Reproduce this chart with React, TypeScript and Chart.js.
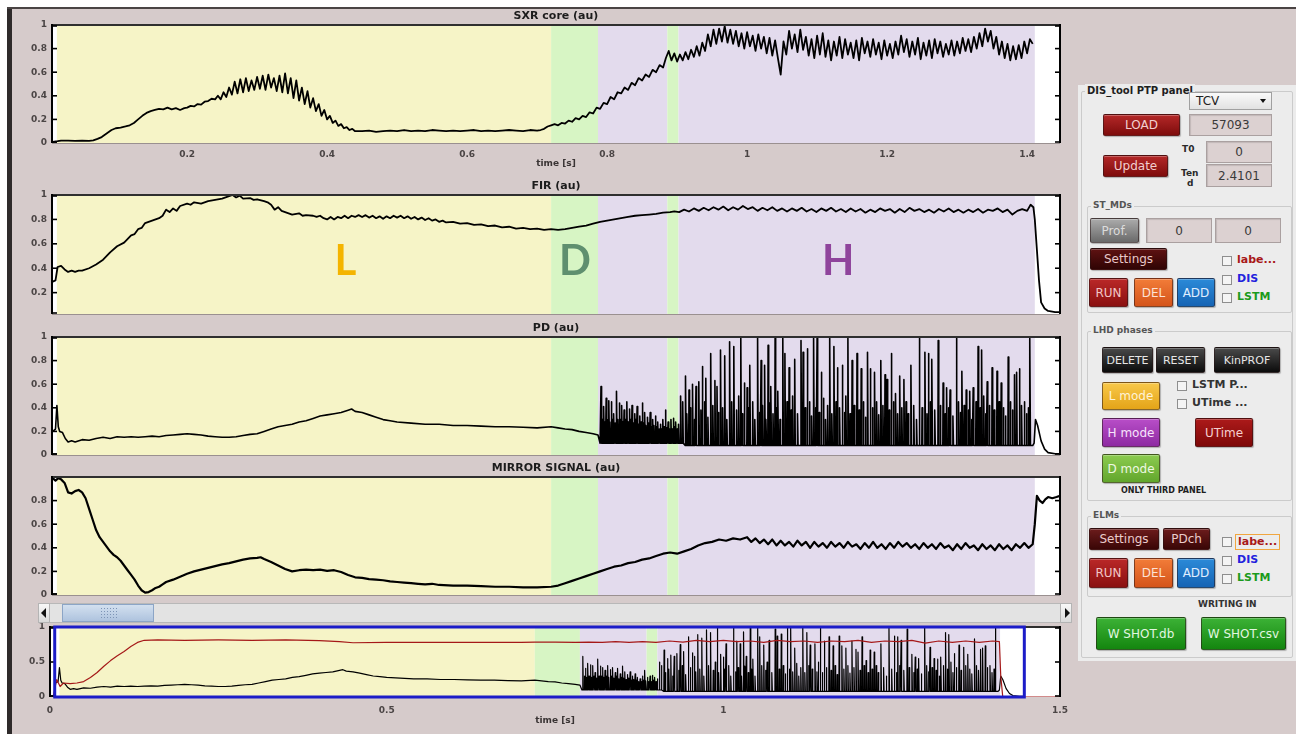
import React, { useEffect, useRef } from "react";
import { Chart, registerables } from "chart.js";

Chart.register(...registerables);

/* ================= DATA ================= */

// plasma phases (time in s)
const phaseStart = [0.014, 0.72, 0.787, 0.886, 0.902];
const phaseEnd = [0.72, 0.787, 0.886, 0.902, 1.411];
const phaseKind = ["L", "D", "H", "D", "H"];
const letterText = ["L", "D", "H"];
const letterTime = [0.426, 0.754, 1.13];
const letterLevel = 0.455;

// axes
const mainRange = [0.007, 1.447];
const ovRange = [0, 1.5];
const mainXTicks = [0.2, 0.4, 0.6, 0.8, 1, 1.2, 1.4];
const fullYTicks = [0, 0.2, 0.4, 0.6, 0.8, 1];
const firYTicks = [0.2, 0.4, 0.6, 0.8, 1];
const mirrorYTicks = [0, 0.2, 0.4, 0.6, 0.8];
const ovXTicks = [0, 0.5, 1, 1.5];
const ovYTicks = [0, 0.5, 1];

// SXR core (au)
const sxrCore = [
  [0.008, 0.01], [0.015, 0.015], [0.02, 0.02], [0.03, 0.02], [0.04, 0.018], [0.05, 0.02], [0.06, 0.018],
  [0.066, 0.022], [0.072, 0.035], [0.078, 0.05], [0.085, 0.08], [0.092, 0.11], [0.098, 0.125], [0.105, 0.13],
  [0.112, 0.14], [0.118, 0.15], [0.124, 0.17], [0.13, 0.2], [0.136, 0.23], [0.142, 0.255], [0.148, 0.27],
  [0.154, 0.28], [0.16, 0.29], [0.166, 0.285], [0.172, 0.3], [0.178, 0.285], [0.184, 0.295], [0.19, 0.28],
  [0.196, 0.295], [0.2, 0.3], [0.205, 0.315], [0.21, 0.31], [0.215, 0.33], [0.22, 0.325], [0.225, 0.35],
  [0.23, 0.355], [0.235, 0.375], [0.24, 0.37], [0.244, 0.4],
  [0.248, 0.37], [0.252, 0.43], [0.256, 0.39], [0.26, 0.47], [0.264, 0.41], [0.268, 0.52], [0.272, 0.42],
  [0.276, 0.54], [0.28, 0.43], [0.284, 0.55], [0.288, 0.44], [0.292, 0.53], [0.296, 0.45], [0.3, 0.56],
  [0.304, 0.46], [0.308, 0.57], [0.312, 0.45], [0.316, 0.58], [0.32, 0.47], [0.324, 0.55], [0.328, 0.44],
  [0.332, 0.57], [0.336, 0.43], [0.34, 0.59], [0.344, 0.42], [0.348, 0.55], [0.352, 0.38], [0.356, 0.53],
  [0.36, 0.36], [0.364, 0.47], [0.368, 0.33], [0.372, 0.44], [0.376, 0.3], [0.38, 0.38], [0.384, 0.27],
  [0.388, 0.33], [0.392, 0.23], [0.396, 0.28], [0.4, 0.2], [0.404, 0.23], [0.408, 0.17], [0.412, 0.19],
  [0.416, 0.145], [0.42, 0.16], [0.424, 0.125], [0.428, 0.135], [0.432, 0.11], [0.436, 0.12], [0.44, 0.1],
  [0.45, 0.1], [0.46, 0.105], [0.47, 0.095], [0.48, 0.1], [0.49, 0.105], [0.5, 0.1], [0.51, 0.11], [0.52, 0.1],
  [0.53, 0.105], [0.54, 0.1], [0.55, 0.11], [0.56, 0.105], [0.57, 0.1], [0.58, 0.105], [0.59, 0.1], [0.6, 0.105],
  [0.61, 0.11], [0.62, 0.1], [0.63, 0.105], [0.64, 0.1], [0.65, 0.105], [0.66, 0.11], [0.67, 0.105], [0.68, 0.1],
  [0.69, 0.11], [0.7, 0.105], [0.705, 0.11], [0.71, 0.12], [0.715, 0.14], [0.72, 0.15],
  [0.725, 0.16], [0.73, 0.15], [0.735, 0.17], [0.74, 0.165], [0.745, 0.19], [0.75, 0.18], [0.755, 0.21],
  [0.76, 0.2], [0.765, 0.23], [0.77, 0.22], [0.775, 0.26], [0.78, 0.25], [0.785, 0.3], [0.79, 0.29],
  [0.795, 0.34], [0.8, 0.33], [0.805, 0.39], [0.81, 0.37], [0.815, 0.43], [0.82, 0.42], [0.825, 0.47],
  [0.83, 0.45], [0.835, 0.51], [0.84, 0.49], [0.845, 0.55], [0.85, 0.53], [0.855, 0.58], [0.86, 0.56],
  [0.865, 0.62], [0.87, 0.6], [0.875, 0.66], [0.88, 0.64], [0.884, 0.72],
  [0.888, 0.78], [0.892, 0.7], [0.896, 0.76], [0.9, 0.69], [0.904, 0.75], [0.908, 0.7], [0.912, 0.77],
  [0.916, 0.71], [0.92, 0.79], [0.924, 0.73], [0.928, 0.82], [0.932, 0.74], [0.936, 0.85], [0.94, 0.78],
  [0.944, 0.92], [0.948, 0.82], [0.952, 0.96], [0.956, 0.84], [0.96, 0.97], [0.964, 0.86], [0.968, 0.99],
  [0.972, 0.85], [0.976, 0.96], [0.98, 0.84], [0.984, 0.95], [0.988, 0.82], [0.992, 0.93], [0.996, 0.8],
  [1.0, 0.94], [1.004, 0.82], [1.008, 0.91], [1.012, 0.78], [1.016, 0.92], [1.02, 0.8], [1.024, 0.9],
  [1.028, 0.76], [1.032, 0.89], [1.036, 0.74], [1.04, 0.87], [1.044, 0.72], [1.048, 0.58], [1.052, 0.86],
  [1.056, 0.75], [1.06, 0.95], [1.064, 0.8], [1.068, 0.92], [1.072, 0.77], [1.076, 0.96], [1.08, 0.79],
  [1.084, 0.9], [1.088, 0.74], [1.092, 0.88], [1.096, 0.72], [1.1, 0.91], [1.104, 0.75], [1.108, 0.93],
  [1.112, 0.73], [1.116, 0.87], [1.12, 0.7], [1.124, 0.86], [1.128, 0.74], [1.132, 0.9], [1.136, 0.72],
  [1.14, 0.88], [1.144, 0.75], [1.148, 0.85], [1.152, 0.72], [1.156, 0.87], [1.16, 0.7], [1.164, 0.89],
  [1.168, 0.76], [1.172, 0.86], [1.176, 0.73], [1.18, 0.88], [1.184, 0.75], [1.188, 0.85], [1.192, 0.71],
  [1.196, 0.87], [1.2, 0.74], [1.204, 0.84], [1.208, 0.72], [1.212, 0.86], [1.216, 0.75], [1.22, 0.91],
  [1.224, 0.77], [1.228, 0.88], [1.232, 0.73], [1.236, 0.86], [1.24, 0.75], [1.244, 0.89], [1.248, 0.71],
  [1.252, 0.85], [1.256, 0.74], [1.26, 0.87], [1.264, 0.72], [1.268, 0.88], [1.272, 0.76], [1.276, 0.86],
  [1.28, 0.73], [1.284, 0.84], [1.288, 0.75], [1.292, 0.87], [1.296, 0.74], [1.3, 0.86], [1.304, 0.76],
  [1.308, 0.89], [1.312, 0.78], [1.316, 0.88], [1.32, 0.77], [1.324, 0.9], [1.328, 0.8], [1.332, 0.93],
  [1.336, 0.82], [1.34, 0.97], [1.344, 0.86], [1.348, 0.95], [1.352, 0.8], [1.356, 0.9], [1.36, 0.75],
  [1.364, 0.86], [1.368, 0.72], [1.372, 0.84], [1.376, 0.7], [1.38, 0.82], [1.384, 0.71], [1.388, 0.83],
  [1.392, 0.72], [1.396, 0.86], [1.4, 0.76], [1.404, 0.88], [1.408, 0.84],
];

// FIR (au)
const fir = [
  [0.008, 0.29], [0.012, 0.3], [0.015, 0.41], [0.02, 0.42], [0.025, 0.39], [0.03, 0.37], [0.035, 0.38],
  [0.04, 0.37], [0.045, 0.38], [0.05, 0.38], [0.06, 0.4], [0.07, 0.43], [0.08, 0.47], [0.09, 0.53],
  [0.1, 0.58], [0.11, 0.61], [0.12, 0.67], [0.125, 0.68], [0.13, 0.72], [0.135, 0.73], [0.14, 0.77],
  [0.15, 0.79], [0.16, 0.81], [0.165, 0.83], [0.17, 0.88], [0.175, 0.86], [0.18, 0.89], [0.185, 0.87],
  [0.19, 0.91], [0.2, 0.93], [0.205, 0.92], [0.21, 0.94], [0.22, 0.93], [0.23, 0.95], [0.24, 0.96],
  [0.25, 0.97], [0.26, 0.99], [0.265, 1.0], [0.27, 0.98], [0.275, 0.995], [0.28, 0.97], [0.29, 0.975],
  [0.295, 0.96], [0.3, 0.965], [0.31, 0.95], [0.315, 0.94], [0.32, 0.92], [0.325, 0.88], [0.33, 0.9],
  [0.335, 0.87], [0.34, 0.86], [0.35, 0.84], [0.36, 0.85], [0.365, 0.83], [0.37, 0.835], [0.38, 0.83],
  [0.385, 0.82], [0.39, 0.83], [0.395, 0.81], [0.4, 0.8], [0.405, 0.82], [0.41, 0.8], [0.415, 0.82],
  [0.42, 0.81], [0.425, 0.83], [0.43, 0.81], [0.435, 0.83], [0.44, 0.82], [0.445, 0.835], [0.45, 0.82],
  [0.455, 0.835], [0.46, 0.815], [0.465, 0.83], [0.47, 0.81], [0.475, 0.825], [0.48, 0.805], [0.485, 0.825],
  [0.49, 0.81], [0.495, 0.83], [0.5, 0.815], [0.505, 0.83], [0.51, 0.81], [0.515, 0.825], [0.52, 0.805],
  [0.525, 0.82], [0.53, 0.8], [0.535, 0.815], [0.54, 0.795], [0.545, 0.81], [0.55, 0.79], [0.555, 0.8],
  [0.56, 0.78], [0.565, 0.79], [0.57, 0.775], [0.58, 0.78], [0.59, 0.765], [0.6, 0.77], [0.61, 0.755],
  [0.62, 0.76], [0.63, 0.745], [0.64, 0.75], [0.65, 0.735], [0.66, 0.74], [0.67, 0.725], [0.68, 0.73],
  [0.69, 0.72], [0.7, 0.725], [0.71, 0.715], [0.72, 0.72], [0.73, 0.715], [0.74, 0.72], [0.75, 0.73],
  [0.76, 0.74], [0.77, 0.75], [0.78, 0.765], [0.79, 0.78], [0.8, 0.79], [0.81, 0.8], [0.82, 0.81],
  [0.83, 0.82], [0.84, 0.83], [0.85, 0.835], [0.86, 0.84], [0.87, 0.845], [0.88, 0.855], [0.89, 0.86],
  [0.896, 0.865], [0.903, 0.86], [0.91, 0.88], [0.917, 0.865], [0.924, 0.89], [0.931, 0.87], [0.938, 0.895],
  [0.945, 0.875], [0.952, 0.9], [0.959, 0.88], [0.966, 0.905], [0.973, 0.875], [0.98, 0.9], [0.987, 0.88],
  [0.994, 0.91], [1.001, 0.885], [1.008, 0.9], [1.015, 0.87], [1.022, 0.895], [1.029, 0.875], [1.036, 0.9],
  [1.043, 0.87], [1.05, 0.89], [1.057, 0.865], [1.064, 0.89], [1.071, 0.87], [1.078, 0.895], [1.085, 0.865],
  [1.092, 0.885], [1.099, 0.86], [1.106, 0.89], [1.113, 0.87], [1.12, 0.895], [1.127, 0.865], [1.134, 0.885],
  [1.141, 0.86], [1.148, 0.89], [1.155, 0.865], [1.162, 0.885], [1.169, 0.855], [1.176, 0.88], [1.183, 0.86],
  [1.19, 0.89], [1.197, 0.87], [1.204, 0.885], [1.211, 0.855], [1.218, 0.885], [1.225, 0.86], [1.232, 0.895],
  [1.239, 0.87], [1.246, 0.885], [1.253, 0.86], [1.26, 0.88], [1.267, 0.855], [1.274, 0.885], [1.281, 0.865],
  [1.288, 0.89], [1.295, 0.86], [1.302, 0.88], [1.309, 0.855], [1.316, 0.88], [1.323, 0.86], [1.33, 0.885],
  [1.337, 0.855], [1.344, 0.88], [1.351, 0.87], [1.358, 0.89], [1.365, 0.86], [1.372, 0.88], [1.379, 0.84],
  [1.386, 0.87], [1.393, 0.885], [1.4, 0.87], [1.405, 0.92], [1.409, 0.9], [1.411, 0.8], [1.414, 0.55],
  [1.417, 0.3], [1.42, 0.12], [1.425, 0.07], [1.43, 0.05], [1.44, 0.04], [1.447, 0.04],
];

// PD (au): slow part
const pdSmooth = [
  [0.008, 0.2], [0.012, 0.22], [0.014, 0.42], [0.016, 0.24], [0.018, 0.2], [0.022, 0.19], [0.026, 0.14],
  [0.03, 0.11], [0.035, 0.12], [0.04, 0.11], [0.05, 0.13], [0.06, 0.125], [0.07, 0.14], [0.08, 0.15],
  [0.09, 0.14], [0.1, 0.155], [0.11, 0.15], [0.12, 0.155], [0.13, 0.15], [0.14, 0.155], [0.15, 0.16],
  [0.16, 0.155], [0.17, 0.165], [0.18, 0.17], [0.19, 0.175], [0.2, 0.18], [0.21, 0.175], [0.22, 0.17],
  [0.23, 0.16], [0.24, 0.155], [0.25, 0.15], [0.26, 0.15], [0.27, 0.155], [0.28, 0.165], [0.29, 0.175],
  [0.3, 0.18], [0.31, 0.2], [0.32, 0.22], [0.33, 0.24], [0.34, 0.25], [0.35, 0.26], [0.36, 0.28],
  [0.37, 0.29], [0.38, 0.31], [0.39, 0.33], [0.4, 0.34], [0.41, 0.35], [0.42, 0.36], [0.43, 0.38],
  [0.435, 0.39], [0.44, 0.37], [0.45, 0.36], [0.46, 0.34], [0.47, 0.32], [0.48, 0.3], [0.49, 0.29],
  [0.5, 0.28], [0.52, 0.27], [0.54, 0.26], [0.56, 0.26], [0.58, 0.25], [0.6, 0.25], [0.62, 0.245],
  [0.64, 0.24], [0.66, 0.24], [0.68, 0.235], [0.7, 0.23], [0.72, 0.24], [0.73, 0.23], [0.74, 0.22],
  [0.75, 0.215], [0.76, 0.2], [0.77, 0.19], [0.78, 0.18], [0.787, 0.17], [0.79, 0.1],
  [1.408, 0.08], [1.41, 0.1], [1.412, 0.3], [1.415, 0.25], [1.42, 0.12], [1.425, 0.05], [1.43, 0.02],
  [1.44, 0.01], [1.447, 0.01],
];
// PD: dithering bursts before the ELMy H-mode [t, peak]
const pdDither = [
  [0.7913, 0.58], [0.7935, 0.3], [0.7952, 0.41], [0.797, 0.28], [0.7987, 0.48], [0.8005, 0.3], [0.8026, 0.46],
  [0.804, 0.28], [0.806, 0.45], [0.808, 0.3], [0.8095, 0.35], [0.8115, 0.27], [0.8134, 0.54], [0.8155, 0.3],
  [0.8174, 0.44], [0.819, 0.3], [0.8208, 0.42], [0.8225, 0.28], [0.8243, 0.38], [0.826, 0.3], [0.8282, 0.45],
  [0.83, 0.28], [0.8321, 0.39], [0.834, 0.3], [0.8356, 0.42], [0.8375, 0.27], [0.8395, 0.35], [0.841, 0.3],
  [0.8429, 0.41], [0.845, 0.26], [0.8469, 0.33], [0.8485, 0.28], [0.8503, 0.44], [0.852, 0.27], [0.8538, 0.36],
  [0.8555, 0.25], [0.8577, 0.32], [0.8595, 0.27], [0.8616, 0.36], [0.863, 0.24], [0.8651, 0.3], [0.867, 0.25],
  [0.869, 0.33], [0.871, 0.24], [0.8725, 0.28], [0.8745, 0.22], [0.8764, 0.26], [0.878, 0.22], [0.8798, 0.3],
  [0.8815, 0.24], [0.8833, 0.38], [0.885, 0.23], [0.8872, 0.28], [0.889, 0.22], [0.8912, 0.3], [0.893, 0.22],
  [0.8946, 0.31], [0.8965, 0.24], [0.8981, 0.28], [0.9, 0.22], [0.902, 0.26], [0.905, 0.5], [0.908, 0.45],
];
// PD: large ELM spikes [t, peak]
const pdElmLarge = [
  [0.912, 0.67], [0.917, 0.55], [0.922, 0.6], [0.927, 0.58], [0.931, 0.62], [0.936, 0.75], [0.941, 0.65],
  [0.948, 0.86], [0.954, 0.63], [0.957, 0.58], [0.962, 0.89], [0.968, 0.84], [0.975, 0.96], [0.981, 0.92],
  [0.991, 0.99], [0.996, 0.61], [1.0, 0.57], [1.004, 0.76], [1.015, 0.99], [1.02, 0.8], [1.025, 0.76],
  [1.03, 0.93], [1.034, 0.58], [1.04, 0.99], [1.044, 0.54], [1.051, 0.99], [1.054, 0.86], [1.06, 0.74],
  [1.068, 0.81], [1.077, 0.97], [1.08, 0.87], [1.086, 0.9], [1.095, 0.99], [1.1, 0.99], [1.106, 0.7],
  [1.118, 0.99], [1.124, 0.92], [1.129, 0.74], [1.136, 0.76], [1.144, 0.99], [1.15, 0.8], [1.157, 0.86],
  [1.163, 0.73], [1.172, 0.87], [1.176, 0.73], [1.182, 0.7], [1.191, 0.8], [1.197, 0.68], [1.2, 0.64],
  [1.206, 0.86], [1.212, 0.52], [1.218, 0.67], [1.224, 0.64], [1.234, 0.76], [1.246, 0.99], [1.254, 0.87],
  [1.259, 0.86], [1.264, 0.81], [1.273, 0.97], [1.28, 0.61], [1.285, 0.57], [1.29, 0.55], [1.299, 0.99],
  [1.307, 0.71], [1.313, 0.55], [1.318, 0.54], [1.323, 0.57], [1.33, 0.92], [1.335, 0.89], [1.343, 0.62],
  [1.35, 0.74], [1.357, 0.71], [1.363, 0.61], [1.373, 0.83], [1.382, 0.68], [1.385, 0.7], [1.389, 0.73],
  [1.404, 0.99],
];
// PD: smaller ELM spikes between the large ones [t, peak]
const pdElmSmall = [
  [0.914, 0.35], [0.919, 0.4], [0.925, 0.3], [0.934, 0.38], [0.939, 0.45], [0.944, 0.32], [0.951, 0.42],
  [0.959, 0.36], [0.965, 0.4], [0.971, 0.3], [0.978, 0.45], [0.985, 0.38], [0.988, 0.5], [0.993, 0.35],
  [1.002, 0.4], [1.008, 0.45], [1.011, 0.3], [1.018, 0.36], [1.022, 0.42], [1.027, 0.3], [1.032, 0.44],
  [1.037, 0.35], [1.042, 0.4], [1.047, 0.3], [1.057, 0.45], [1.063, 0.38], [1.065, 0.5], [1.072, 0.35],
  [1.083, 0.4], [1.089, 0.45], [1.092, 0.33], [1.098, 0.4], [1.103, 0.36], [1.109, 0.48], [1.112, 0.3],
  [1.115, 0.42], [1.121, 0.35], [1.127, 0.45], [1.132, 0.4], [1.139, 0.36], [1.141, 0.5], [1.147, 0.35],
  [1.153, 0.42], [1.16, 0.38], [1.166, 0.45], [1.169, 0.32], [1.179, 0.4], [1.185, 0.45], [1.188, 0.34],
  [1.194, 0.42], [1.203, 0.38], [1.209, 0.45], [1.215, 0.35], [1.221, 0.4], [1.227, 0.45], [1.23, 0.35],
  [1.238, 0.42], [1.242, 0.3], [1.25, 0.4], [1.257, 0.35], [1.262, 0.45], [1.268, 0.38], [1.276, 0.42],
  [1.283, 0.35], [1.288, 0.4], [1.294, 0.33], [1.302, 0.45], [1.305, 0.36], [1.31, 0.42], [1.316, 0.38],
  [1.321, 0.3], [1.327, 0.45], [1.333, 0.4], [1.338, 0.5], [1.341, 0.35], [1.346, 0.42], [1.353, 0.38],
  [1.36, 0.45], [1.366, 0.4], [1.369, 0.33], [1.376, 0.45], [1.379, 0.38], [1.392, 0.42], [1.396, 0.45],
  [1.399, 0.35], [1.402, 0.4],
];
const pdDitherBase = 0.1;
const pdElmBase = 0.08;

// MIRROR SIGNAL (au)
const mirror = [
  [0.008, 0.99], [0.012, 0.97], [0.016, 0.99], [0.02, 0.98], [0.025, 0.95], [0.03, 0.87], [0.035, 0.86],
  [0.04, 0.88], [0.045, 0.89], [0.05, 0.87], [0.055, 0.82], [0.06, 0.73], [0.065, 0.64], [0.07, 0.55],
  [0.075, 0.49], [0.08, 0.45], [0.085, 0.41], [0.09, 0.37], [0.095, 0.34], [0.1, 0.32], [0.105, 0.29],
  [0.11, 0.25], [0.115, 0.21], [0.12, 0.17], [0.125, 0.13], [0.13, 0.08], [0.135, 0.04], [0.14, 0.02],
  [0.145, 0.025], [0.15, 0.04], [0.155, 0.06], [0.16, 0.07], [0.165, 0.09], [0.17, 0.11], [0.18, 0.13],
  [0.19, 0.155], [0.2, 0.18], [0.21, 0.2], [0.22, 0.215], [0.23, 0.23], [0.24, 0.245], [0.25, 0.26],
  [0.26, 0.27], [0.27, 0.285], [0.28, 0.3], [0.29, 0.31], [0.3, 0.315], [0.305, 0.32], [0.31, 0.305],
  [0.32, 0.28], [0.33, 0.25], [0.34, 0.22], [0.35, 0.2], [0.36, 0.21], [0.37, 0.215], [0.38, 0.21],
  [0.39, 0.215], [0.4, 0.205], [0.41, 0.21], [0.42, 0.195], [0.43, 0.17], [0.44, 0.15], [0.45, 0.145],
  [0.46, 0.135], [0.47, 0.13], [0.48, 0.125], [0.49, 0.115], [0.5, 0.11], [0.51, 0.105], [0.52, 0.1],
  [0.53, 0.095], [0.54, 0.09], [0.55, 0.095], [0.56, 0.085], [0.58, 0.08], [0.6, 0.08], [0.62, 0.075],
  [0.64, 0.07], [0.66, 0.07], [0.68, 0.065], [0.7, 0.065], [0.72, 0.07], [0.73, 0.08], [0.74, 0.1],
  [0.75, 0.12], [0.76, 0.14], [0.77, 0.16], [0.78, 0.18], [0.79, 0.2], [0.8, 0.22], [0.81, 0.24],
  [0.82, 0.25], [0.83, 0.27], [0.84, 0.28], [0.85, 0.3], [0.86, 0.31], [0.87, 0.33], [0.88, 0.35],
  [0.89, 0.36], [0.9, 0.35], [0.91, 0.37], [0.92, 0.39], [0.93, 0.42], [0.94, 0.44], [0.95, 0.45],
  [0.96, 0.47], [0.97, 0.46], [0.98, 0.48], [0.99, 0.47],
  [1.0, 0.49], [1.006, 0.45], [1.012, 0.48], [1.018, 0.44], [1.024, 0.47], [1.03, 0.43], [1.036, 0.47],
  [1.042, 0.42], [1.048, 0.46], [1.054, 0.42], [1.06, 0.45], [1.066, 0.41], [1.072, 0.46], [1.078, 0.42],
  [1.084, 0.45], [1.09, 0.4], [1.096, 0.45], [1.102, 0.41], [1.108, 0.44], [1.114, 0.4], [1.12, 0.45],
  [1.126, 0.41], [1.132, 0.44], [1.138, 0.4], [1.144, 0.45], [1.15, 0.41], [1.156, 0.43], [1.162, 0.39],
  [1.168, 0.44], [1.174, 0.4], [1.18, 0.45], [1.186, 0.4], [1.192, 0.43], [1.198, 0.39], [1.204, 0.44],
  [1.21, 0.4], [1.216, 0.45], [1.222, 0.41], [1.228, 0.44], [1.234, 0.4], [1.24, 0.43], [1.246, 0.39],
  [1.252, 0.44], [1.258, 0.4], [1.264, 0.43], [1.27, 0.39], [1.276, 0.44], [1.282, 0.4], [1.288, 0.42],
  [1.294, 0.38], [1.3, 0.43], [1.306, 0.39], [1.312, 0.44], [1.318, 0.4], [1.324, 0.42], [1.33, 0.38],
  [1.336, 0.43], [1.342, 0.39], [1.348, 0.42], [1.354, 0.38], [1.36, 0.43], [1.366, 0.39], [1.372, 0.42],
  [1.378, 0.38], [1.384, 0.43], [1.39, 0.4], [1.396, 0.44], [1.402, 0.4], [1.408, 0.43], [1.411, 0.6],
  [1.414, 0.84], [1.418, 0.8], [1.422, 0.78], [1.426, 0.81], [1.43, 0.83], [1.436, 0.82], [1.442, 0.83],
  [1.447, 0.84],
];

// overview: red reference trace
const ovRed = [
  [0.005, 0.02], [0.01, 0.25], [0.015, 0.15], [0.02, 0.2], [0.03, 0.19], [0.04, 0.2], [0.05, 0.22],
  [0.06, 0.28], [0.07, 0.35], [0.08, 0.44], [0.09, 0.52], [0.1, 0.59], [0.11, 0.65], [0.12, 0.72],
  [0.13, 0.78], [0.14, 0.81], [0.16, 0.815], [0.2, 0.81], [0.25, 0.815], [0.3, 0.81], [0.35, 0.815],
  [0.4, 0.805], [0.43, 0.79], [0.45, 0.775], [0.5, 0.78], [0.55, 0.78], [0.6, 0.78], [0.65, 0.78],
  [0.7, 0.78], [0.72, 0.785], [0.75, 0.785], [0.78, 0.78], [0.8, 0.785], [0.82, 0.78], [0.84, 0.79],
  [0.86, 0.78], [0.88, 0.79], [0.9, 0.78], [0.92, 0.8], [0.94, 0.785], [0.96, 0.81], [0.98, 0.79],
  [1.0, 0.81], [1.02, 0.79], [1.04, 0.8], [1.06, 0.78], [1.08, 0.81], [1.1, 0.79], [1.12, 0.8],
  [1.14, 0.78], [1.16, 0.8], [1.18, 0.79], [1.2, 0.81], [1.22, 0.78], [1.24, 0.8], [1.26, 0.79],
  [1.28, 0.81], [1.3, 0.77], [1.32, 0.8], [1.34, 0.78], [1.36, 0.8], [1.38, 0.78], [1.4, 0.8],
  [1.41, 0.79], [1.412, 0.3], [1.415, 0.0], [1.5, 0.0],
];

/* ================= HELPERS ================= */

const PHASE_FILL: Record<string, string> = { L: "#f6f4c7", D: "#d7f5c4", H: "#e3dbed" };
const LETTER_COLOR: Record<string, string> = { L: "#f4b400", D: "#5f8f6f", H: "#8f449c" };
const FIG_BG = "#d6cbcb";
const FONT = '"DejaVu Sans", "Liberation Sans", sans-serif';

const xy = (pairs: number[][]) => pairs.map(([x, y]) => ({ x, y }));

function spikes(list: number[][], base: number) {
  const out: number[][] = [];
  list.forEach(([t, h]) => {
    out.push([t - 0.0004, base], [t, h], [t + 0.0008, base]);
  });
  return out;
}

const pdAll = [
  ...pdSmooth,
  ...spikes(pdDither, pdDitherBase),
  ...spikes(pdElmLarge, pdElmBase),
  ...spikes(pdElmSmall, pdElmBase),
].sort((a, b) => a[0] - b[0]);

const fmt = (v: any) => String(Math.round(Number(v) * 100) / 100);

const decorPlugin = {
  id: "decor",
  beforeDatasetsDraw(chart: any, _a: any, o: any) {
    const { ctx, chartArea: a } = chart;
    const xs = chart.scales.x;
    ctx.save();
    ctx.fillStyle = "#ffffff";
    ctx.fillRect(a.left, a.top, a.right - a.left, a.bottom - a.top);
    phaseStart.forEach((s, i) => {
      const x0 = Math.max(a.left, xs.getPixelForValue(s));
      const x1 = Math.min(a.right, xs.getPixelForValue(phaseEnd[i]));
      if (x1 > x0) {
        ctx.fillStyle = PHASE_FILL[phaseKind[i]];
        ctx.fillRect(x0, a.top, x1 - x0, a.bottom - a.top);
      }
    });
    ctx.restore();
  },
  afterDatasetsDraw(chart: any, _a: any, o: any) {
    const { ctx, chartArea: a } = chart;
    const xs = chart.scales.x;
    const ys = chart.scales.y;
    const seg = (x0: number, y0: number, x1: number, y1: number, c: string, w: number) => {
      ctx.strokeStyle = c;
      ctx.lineWidth = w;
      ctx.beginPath();
      ctx.moveTo(x0, y0);
      ctx.lineTo(x1, y1);
      ctx.stroke();
    };
    ctx.save();
    if (o.letters) {
      ctx.font = "bold 42px Lato, 'Open Sans', sans-serif";
      ctx.textAlign = "center";
      ctx.textBaseline = "middle";
      letterText.forEach((t, i) => {
        ctx.fillStyle = LETTER_COLOR[t];
        ctx.fillText(t, xs.getPixelForValue(letterTime[i]), ys.getPixelForValue(letterLevel));
      });
    }
    // frame
    seg(a.left, a.top, a.right, a.top, "#2f2f2f", 2);
    if (o.bottomLine) seg(a.left, a.bottom + 0.5, a.right, a.bottom + 0.5, "#9a9090", 1);
    seg(a.left, a.top - 1, a.left, a.bottom, "#000", 2);
    seg(a.right, a.top - 1, a.right, a.bottom, "#000", 2);
    ys.ticks.forEach((t: any) => {
      const py = Math.min(a.bottom - 1, Math.max(a.top + 1, ys.getPixelForValue(t.value)));
      seg(a.left, py, a.left + 5, py, "#000", 1.6);
      seg(a.right - 5, py, a.right, py, "#000", 1.6);
    });
    seg(a.left, a.bottom - 1, a.left + 5, a.bottom - 1, "#000", 1.6);
    if (o.windowBox) {
      const x0 = xs.getPixelForValue(mainRange[0]);
      const x1 = xs.getPixelForValue(mainRange[1]);
      ctx.strokeStyle = "#1c1cc8";
      ctx.lineWidth = 3;
      ctx.strokeRect(x0, a.top, x1 - x0, a.bottom - a.top);
    }
    if (o.title) {
      ctx.font = `bold 11px ${FONT}`;
      ctx.fillStyle = "#1c1c1c";
      ctx.textAlign = "center";
      ctx.textBaseline = "middle";
      ctx.fillText(o.title, (a.left + a.right) / 2, a.top - 9);
    }
    ctx.restore();
  },
};

type Cfg = {
  id: string;
  left: number;
  top: number;
  width: number;
  height: number;
  padTop: number;
  padBottom: number;
  padRight: number;
  yWidth: number;
  xHeight: number;
  xMin: number;
  xMax: number;
  yMin: number;
  yMax: number;
  yTicks: number[];
  xTicks: number[] | null;
  xPad: number;
  xTitle: string | null;
  title: string | null;
  letters: boolean;
  windowBox: boolean;
  datasets: any[];
};

const tickFont = { family: FONT, size: 9, weight: "bold" as const };

const line = (pairs: number[][], color: string, width: number) => ({
  data: xy(pairs),
  borderColor: color,
  borderWidth: width,
  pointRadius: 0,
  fill: false,
  tension: 0,
  borderJoinStyle: "round",
  spanGaps: true,
});

function ChartPanel({ cfg }: { cfg: Cfg }) {
  const ref = useRef<HTMLCanvasElement | null>(null);
  useEffect(() => {
    if (!ref.current) return;
    const zeroPad = (s: any) => {
      s.paddingLeft = 0;
      s.paddingRight = 0;
      s.paddingTop = 0;
      s.paddingBottom = 0;
    };
    const chart = new Chart(ref.current, {
      type: "line",
      data: { datasets: cfg.datasets },
      options: {
        animation: false,
        responsive: false,
        devicePixelRatio: 1,
        events: [],
        layout: { padding: { left: 0, top: cfg.padTop, right: cfg.padRight, bottom: cfg.padBottom } },
        plugins: {
          legend: { display: false },
          tooltip: { enabled: false },
          decor: {
            title: cfg.title,
            letters: cfg.letters,
            windowBox: cfg.windowBox,
            bottomLine: !cfg.windowBox,
          },
        } as any,
        scales: {
          x: {
            type: "linear",
            min: cfg.xMin,
            max: cfg.xMax,
            grid: { display: false, drawTicks: false },
            border: { display: false },
            afterBuildTicks: (s: any) => {
              s.ticks = (cfg.xTicks || []).map((v) => ({ value: v }));
            },
            afterFit: (s: any) => {
              s.height = cfg.xHeight;
              zeroPad(s);
            },
            ticks: {
              display: !!cfg.xTicks,
              padding: cfg.xPad,
              font: tickFont,
              color: "#4b4545",
              maxRotation: 0,
              autoSkip: false,
              callback: fmt,
            },
            title: {
              display: !!cfg.xTitle,
              text: cfg.xTitle || "",
              font: { family: FONT, size: 9, weight: "bold" },
              color: "#3a3434",
              padding: { top: 0, bottom: 1 },
            },
          },
          y: {
            type: "linear",
            min: cfg.yMin,
            max: cfg.yMax,
            grid: { display: false, drawTicks: false },
            border: { display: false },
            afterBuildTicks: (s: any) => {
              s.ticks = cfg.yTicks.map((v) => ({ value: v }));
            },
            afterFit: (s: any) => {
              s.width = cfg.yWidth;
              zeroPad(s);
            },
            ticks: { padding: 5, font: tickFont, color: "#4b4545", autoSkip: false, callback: fmt },
          },
        },
      } as any,
      plugins: [decorPlugin as any],
    });
    return () => chart.destroy();
  }, []);
  return (
    <canvas
      ref={ref}
      width={cfg.width}
      height={cfg.height}
      style={{ position: "absolute", left: cfg.left, top: cfg.top, width: cfg.width, height: cfg.height }}
    />
  );
}

const mainBase = {
  left: 8,
  width: 1064,
  padTop: 17,
  padRight: 12,
  yWidth: 44,
  xMin: mainRange[0],
  xMax: mainRange[1],
  xPad: 6,
  windowBox: false,
};

const panels: Cfg[] = [
  {
    ...mainBase, id: "sxr", top: 8, height: 162, padBottom: 0, xHeight: 27, yMin: 0, yMax: 1,
    yTicks: fullYTicks, xTicks: mainXTicks, xTitle: "time [s]", title: "SXR core (au)", letters: false,
    datasets: [line(sxrCore, "#000", 1.8)],
  },
  {
    ...mainBase, id: "fir", top: 178, height: 140, padBottom: 4, xHeight: 0, yMin: 0.025, yMax: 1,
    yTicks: firYTicks, xTicks: null, xTitle: null, title: "FIR (au)", letters: true,
    datasets: [line(fir, "#000", 1.8)],
  },
  {
    ...mainBase, id: "pd", top: 320, height: 139, padBottom: 4, xHeight: 0, yMin: 0, yMax: 1,
    yTicks: fullYTicks, xTicks: null, xTitle: null, title: "PD (au)", letters: false,
    datasets: [line(pdAll, "#000", 1.6)],
  },
  {
    ...mainBase, id: "mirror", top: 460, height: 139, padBottom: 4, xHeight: 0, yMin: 0, yMax: 1,
    yTicks: mirrorYTicks, xTicks: null, xTitle: null, title: "MIRROR SIGNAL (au)", letters: false,
    datasets: [line(mirror, "#000", 2.2)],
  },
  {
    id: "overview", left: 8, top: 621, width: 1064, height: 106, padTop: 6, padBottom: 0, padRight: 12,
    yWidth: 42, xHeight: 30, xMin: ovRange[0], xMax: ovRange[1], yMin: 0, yMax: 1, yTicks: ovYTicks,
    xTicks: ovXTicks, xPad: 8, xTitle: "time [s]", title: null, letters: false, windowBox: true,
    datasets: [line(ovRed, "#a51818", 1.2), line(pdAll, "#000", 1.2)],
  },
];

/* ================= GUI PIECES ================= */

const grad = (a: string, b: string) => `linear-gradient(to bottom, ${a}, ${b})`;

function Btn(p: { x: number; y: number; w: number; h: number; bg: string; fg: string; label: string; fs?: number }) {
  return (
    <div
      style={{
        position: "absolute", left: p.x, top: p.y, width: p.w, height: p.h, background: p.bg, color: p.fg,
        font: `${p.fs || 12}px ${FONT}`, display: "flex", alignItems: "center", justifyContent: "center",
        boxSizing: "border-box", border: "1px solid rgba(40,20,20,0.55)", borderRadius: 2,
        boxShadow: "inset 0 1px 0 rgba(255,255,255,0.28), 1px 1px 1px rgba(0,0,0,0.25)",
        overflow: "hidden", whiteSpace: "nowrap",
      }}
    >
      {p.label}
    </div>
  );
}

function Field(p: { x: number; y: number; w: number; h: number; text: string }) {
  return (
    <div
      style={{
        position: "absolute", left: p.x, top: p.y, width: p.w, height: p.h, background: "#dcd1d1",
        boxSizing: "border-box", border: "1px solid #aaa0a0", boxShadow: "inset 1px 1px 1px rgba(0,0,0,0.12)",
        color: "#3a3a3a", font: `12px ${FONT}`, display: "flex", alignItems: "center", justifyContent: "center",
      }}
    >
      {p.text}
    </div>
  );
}

function Check(p: { x: number; y: number; label: string; color: string; outline?: boolean }) {
  return (
    <>
      <div
        style={{
          position: "absolute", left: p.x, top: p.y - 5, width: 10, height: 10, boxSizing: "border-box",
          background: "#f4f4f4", border: "1px solid #8e8e8e",
        }}
      />
      <div
        style={{
          position: "absolute", left: p.x + 13, top: p.y - 8, height: 16, lineHeight: "16px",
          font: `bold 11px ${FONT}`, color: p.color, whiteSpace: "nowrap", padding: "0 2px",
          boxSizing: "border-box", border: p.outline ? "1px solid #f0a640" : "none",
        }}
      >
        {p.label}
      </div>
    </>
  );
}

function Group(p: { x: number; y: number; w: number; h: number; title: string; big?: boolean }) {
  return (
    <>
      <div
        style={{
          position: "absolute", left: p.x, top: p.y, width: p.w, height: p.h, boxSizing: "border-box",
          border: "1px solid #cbcbcb", borderRadius: 2,
        }}
      />
      <div
        style={{
          position: "absolute", left: p.x + 4, top: p.y - 7, padding: "0 2px", background: "#ececec",
          font: `bold ${p.big ? 10 : 9}px ${FONT}`, color: p.big ? "#1e1e1e" : "#555", lineHeight: "13px",
          whiteSpace: "nowrap",
        }}
      >
        {p.title}
      </div>
    </>
  );
}

function Label(p: { x: number; y: number; text: string; size: number; color?: string }) {
  return (
    <div
      style={{
        position: "absolute", left: p.x, top: p.y - 7, lineHeight: "14px", font: `bold ${p.size}px ${FONT}`,
        color: p.color || "#2a2a2a", whiteSpace: "nowrap",
      }}
    >
      {p.text}
    </div>
  );
}

function Arrow(p: { x: number; dir: "l" | "r" }) {
  return (
    <div
      style={{
        position: "absolute", left: p.x, top: 603, width: 12, height: 20, boxSizing: "border-box",
        background: grad("#f8f8f8", "#dadada"), border: "1px solid #b4b4b4",
      }}
    >
      <div
        style={{
          position: "absolute", left: p.dir === "l" ? 2 : 4, top: 4, width: 0, height: 0,
          borderTop: "5px solid transparent", borderBottom: "5px solid transparent",
          borderRight: p.dir === "l" ? "5px solid #111" : "none", borderLeft: p.dir === "r" ? "5px solid #111" : "none",
        }}
      />
    </div>
  );
}

function Scrollbar() {
  return (
    <>
      <div
        style={{
          position: "absolute", left: 38, top: 603, width: 1034, height: 20, boxSizing: "border-box",
          background: "#e3e3e3", border: "1px solid #b8b8b8",
        }}
      />
      <div
        style={{
          position: "absolute", left: 62, top: 604, width: 92, height: 18, boxSizing: "border-box",
          background: grad("#d3e0ef", "#aec3de"), border: "1px solid #8ca5c6",
        }}
      />
      <div
        style={{
          position: "absolute", left: 100, top: 607, width: 19, height: 12,
          backgroundImage: "radial-gradient(#7d94b6 0.8px, transparent 1px)", backgroundSize: "3px 3px",
        }}
      />
      <Arrow x={38} dir="l" />
      <Arrow x={1060} dir="r" />
    </>
  );
}

function RightPanel() {
  const red = grad("#b42828", "#7e0c0c");
  const darkRed = grad("#5e1212", "#300404");
  const black = grad("#4a4a4a", "#0b0b0b");
  return (
    <>
      <div style={{ position: "absolute", left: 1078, top: 85, width: 218, height: 576, background: "#ececec" }} />
      <Group x={1081} y={91} w={212} h={567} title="DIS_tool PTP panel" big />
      <div
        style={{
          position: "absolute", left: 1189, top: 92, width: 83, height: 18, boxSizing: "border-box",
          background: grad("#fafafa", "#e2e2e2"), border: "1px solid #a0a0a0", font: `12px ${FONT}`,
          color: "#222", lineHeight: "16px", paddingLeft: 6,
        }}
      >
        TCV
        <div
          style={{
            position: "absolute", right: 5, top: 6, width: 0, height: 0, borderLeft: "3px solid transparent",
            borderRight: "3px solid transparent", borderTop: "4px solid #111",
          }}
        />
      </div>
      <Btn x={1103} y={114} w={77} h={22} bg={red} fg="#f2cfcf" label="LOAD" />
      <Field x={1189} y={114} w={83} h={22} text="57093" />
      <Label x={1182} y={151} text="T0" size={9} />
      <Field x={1206} y={141} w={66} h={22} text="0" />
      <Btn x={1103} y={155} w={65} h={22} bg={red} fg="#f2cfcf" label="Update" />
      <Label x={1181} y={175} text="Ten" size={9} />
      <Label x={1187} y={185} text="d" size={9} />
      <Field x={1206} y={164} w={66} h={23} text="2.4101" />

      <Group x={1087} y={206} w={205} h={107} title="ST_MDs" />
      <Btn x={1090} y={218} w={49} h={25} bg={grad("#ababab", "#6a6a6a")} fg="#dcdcdc" label="Prof." />
      <Field x={1146} y={218} w={66} h={25} text="0" />
      <Field x={1215} y={218} w={66} h={25} text="0" />
      <Btn x={1090} y={248} w={77} h={22} bg={darkRed} fg="#e8c8c8" label="Settings" />
      <Check x={1222} y={261} label="labe..." color="#a81818" />
      <Check x={1222} y={280} label="DIS" color="#2222dd" />
      <Check x={1222} y={298} label="LSTM" color="#1c9a1c" />
      <Btn x={1089} y={278} w={39} h={29} bg={grad("#ba2828", "#8a1010")} fg="#f2c6c6" label="RUN" />
      <Btn x={1134} y={278} w={39} h={29} bg={grad("#f27c38", "#d4541a")} fg="#fde2d4" label="DEL" />
      <Btn x={1177} y={278} w={38} h={29} bg={grad("#2b8ad8", "#1664b4")} fg="#e0eeff" label="ADD" />

      <Group x={1087} y={331} w={205} h={170} title="LHD phases" />
      <Btn x={1102} y={347} w={51} h={26} bg={black} fg="#e6e6e6" label="DELETE" fs={11} />
      <Btn x={1156} y={347} w={49} h={26} bg={black} fg="#e6e6e6" label="RESET" fs={11} />
      <Btn x={1214} y={347} w={66} h={26} bg={black} fg="#e6e6e6" label="KinPROF" fs={11} />
      <Btn x={1102} y={382} w={58} h={28} bg={grad("#f8c84a", "#e4a418")} fg="#fff3d6" label="L mode" />
      <Check x={1177} y={386} label="LSTM P..." color="#333" />
      <Check x={1177} y={404} label="UTime ..." color="#333" />
      <Btn x={1102} y={418} w={58} h={29} bg={grad("#b84ec8", "#8e2aa2")} fg="#f7e4fb" label="H mode" />
      <Btn x={1195} y={418} w={58} h={29} bg={grad("#ac1a1a", "#7e0808")} fg="#f5d0d0" label="UTime" />
      <Btn x={1102} y={454} w={58} h={29} bg={grad("#8ccb50", "#62a62c")} fg="#eef8e2" label="D mode" />
      <Label x={1121} y={493} text="ONLY THIRD PANEL" size={8} color="#1e1e1e" />

      <Group x={1087} y={516} w={205} h={81} title="ELMs" />
      <Btn x={1089} y={528} w={70} h={22} bg={grad("#6c1c1c", "#3a0606")} fg="#ebcccc" label="Settings" />
      <Btn x={1163} y={528} w={47} h={22} bg={grad("#6c1c1c", "#3a0606")} fg="#ebcccc" label="PDch" />
      <Check x={1222} y={542} label="labe..." color="#a81818" outline />
      <Check x={1222} y={561} label="DIS" color="#2222dd" />
      <Check x={1222} y={579} label="LSTM" color="#1c9a1c" />
      <Btn x={1089} y={558} w={39} h={30} bg={grad("#ba2828", "#8a1010")} fg="#f2c6c6" label="RUN" />
      <Btn x={1134} y={558} w={39} h={30} bg={grad("#f27c38", "#d4541a")} fg="#fde2d4" label="DEL" />
      <Btn x={1177} y={558} w={38} h={30} bg={grad("#2b8ad8", "#1664b4")} fg="#e0eeff" label="ADD" />
      <Label x={1198} y={606} text="WRITING IN" size={9} color="#333" />
      <Btn x={1096} y={617} w={90} h={33} bg={grad("#3cb236", "#14860f")} fg="#e2f6e0" label="W SHOT.db" />
      <Btn x={1201} y={617} w={85} h={33} bg={grad("#3cb236", "#14860f")} fg="#e2f6e0" label="W SHOT.csv" />
    </>
  );
}

export default function App() {
  return (
    <div
      style={{
        position: "absolute", left: 0, top: 0, width: 1296, height: 734, overflow: "hidden",
        background: "#ffffff", fontFamily: FONT,
      }}
    >
      <div style={{ position: "absolute", left: 7, top: 7, right: 0, bottom: 0, background: FIG_BG }} />
      <div style={{ position: "absolute", left: 7, top: 7, width: 5, bottom: 0, background: "#2e2a2a" }} />
      <div style={{ position: "absolute", left: 7, top: 7, right: 0, height: 2, background: "#4a4444" }} />
      {panels.map((p) => (
        <ChartPanel key={p.id} cfg={p} />
      ))}
      <Scrollbar />
      <RightPanel />
    </div>
  );
}
